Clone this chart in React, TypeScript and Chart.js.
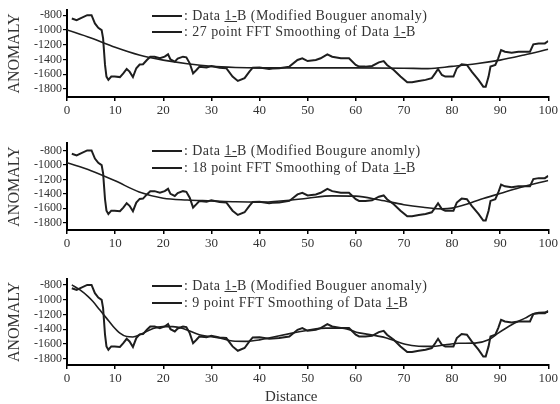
import React, { useEffect, useRef } from 'react';
import { Chart, registerables } from 'chart.js';

Chart.register(...registerables);

// ---- data ----
const distance = [1, 2, 3, 4.2, 5.1, 5.8, 6.5, 7.2, 7.5, 7.9, 8.2, 8.6, 9.2, 9.9, 11, 11.7, 12.4, 13, 13.7, 14.4, 15.1, 15.8, 16.6, 17.3, 18.2, 19.3, 20.3, 21, 21.5, 22.4, 23, 24.1, 24.8, 25.5, 26.2, 26.9, 27.5, 29, 30, 31.7, 33.1, 34.4, 35.5, 36.9, 37.9, 38.6, 40, 42, 42.7, 44.1, 46.2, 47.9, 48.9, 50, 51.7, 52.7, 54.1, 55.1, 56.9, 58.6, 60, 60.7, 62, 63.4, 64.8, 65.8, 66.5, 67.9, 69.3, 70.7, 71.7, 73.1, 74.5, 75.8, 76.5, 77.1, 77.9, 78.6, 80.3, 81, 82, 83.1, 84.1, 85.5, 86.5, 87, 87.6, 88, 89, 89.6, 90.2, 91, 92.4, 93.8, 95.2, 96.2, 96.9, 98, 99.3, 100];
const anomaly = [-845, -868, -836, -800, -800, -912, -971, -1003, -1115, -1475, -1633, -1678, -1633, -1633, -1640, -1590, -1530, -1566, -1640, -1520, -1470, -1466, -1408, -1363, -1363, -1385, -1363, -1331, -1400, -1430, -1390, -1363, -1372, -1453, -1590, -1543, -1500, -1510, -1490, -1512, -1520, -1633, -1692, -1655, -1566, -1512, -1510, -1530, -1525, -1520, -1498, -1408, -1385, -1422, -1408, -1385, -1331, -1363, -1385, -1385, -1475, -1498, -1498, -1489, -1440, -1422, -1475, -1543, -1633, -1710, -1710, -1692, -1678, -1655, -1590, -1530, -1611, -1633, -1633, -1520, -1466, -1475, -1566, -1678, -1770, -1770, -1633, -1498, -1475, -1385, -1273, -1296, -1309, -1296, -1296, -1296, -1196, -1183, -1183, -1151];

const smooth27X = [0, 5, 10, 15, 20, 25, 30, 35, 40, 50, 60, 70, 75, 80, 85, 90, 95, 100];
const smooth27Y = [-1000, -1110, -1235, -1340, -1410, -1460, -1495, -1510, -1515, -1515, -1515, -1520, -1525, -1495, -1460, -1410, -1340, -1263];

const smooth18X = [0, 5, 10, 15, 20, 25, 30, 35, 40, 45, 50, 55, 60, 65, 70, 74, 78, 80, 83, 86, 90, 94, 100];
const smooth18Y = [-970, -1080, -1220, -1375, -1462, -1485, -1497, -1510, -1515, -1495, -1460, -1428, -1432, -1485, -1550, -1585, -1608, -1598, -1545, -1475, -1395, -1315, -1215];

const smooth9X = [1, 2.7, 4.4, 5.4, 6.8, 8.2, 9.6, 11, 12.4, 13.7, 15.8, 17.9, 19.9, 22, 24.1, 27.5, 31.7, 34.4, 37.2, 40, 43.4, 46.8, 50.3, 53.8, 57.2, 60.7, 63.4, 66.2, 70.3, 73.1, 75.8, 78.6, 81.4, 84.8, 87.6, 89.6, 92.4, 95.2, 97.2, 100];
const smooth9Y = [-800, -868, -958, -1025, -1138, -1250, -1363, -1453, -1500, -1505, -1455, -1390, -1365, -1365, -1390, -1475, -1520, -1560, -1565, -1545, -1498, -1453, -1410, -1385, -1385, -1450, -1478, -1515, -1605, -1630, -1633, -1611, -1590, -1588, -1543, -1453, -1340, -1250, -1183, -1169];

const yTickValues = [-800, -1000, -1200, -1400, -1600, -1800];
const legendTitles = [
  ': Data 1-B (Modified Bouguer anomaly)',
  ': Data 1-B (Modified Bougure anomly)',
  ': Data 1-B (Modified Bouguer anomaly)',
];
const smoothLabels = [
  ': 27 point FFT Smoothing of Data 1-B',
  ': 18 point FFT Smoothing of Data 1-B',
  ': 9 point FFT Smoothing of Data 1-B',
];

const FONT = "'Liberation Serif', 'Times New Roman', serif";
const INK = '#1e1e1e';
const TEXT = '#333333';

type PanelProps = {
  top: number;
  height: number;
  areaTop: number;
  areaBottom: number;
  yMin: number;
  yMax: number;
  sx: number[];
  sy: number[];
};

function Panel({ top, height, areaTop, areaBottom, yMin, yMax, sx, sy }: PanelProps) {
  const ref = useRef<HTMLCanvasElement>(null);
  useEffect(() => {
    const canvas = ref.current!;
    const chart = new Chart(canvas, {
      type: 'line',
      data: {
        datasets: [
          {
            data: distance.map((x, i) => ({ x, y: anomaly[i] })),
            borderColor: INK,
            borderWidth: 2,
            pointRadius: 0,
            tension: 0,
          },
          {
            data: sx.map((x, i) => ({ x, y: sy[i] })),
            borderColor: INK,
            borderWidth: 1.6,
            pointRadius: 0,
            cubicInterpolationMode: 'monotone',
          },
        ],
      },
      options: {
        responsive: false,
        animation: false,
        devicePixelRatio: 1,
        layout: { padding: { top: areaTop, left: 0, right: 10, bottom: 0 } },
        plugins: { legend: { display: false }, tooltip: { enabled: false } },
        scales: {
          x: {
            type: 'linear',
            min: 0,
            max: 100,
            afterFit: (s: any) => {
              s.height = height - areaBottom;
            },
            ticks: {
              stepSize: 10,
              autoSkip: false,
              maxRotation: 0,
              padding: 2,
              color: TEXT,
              font: { family: FONT, size: 13 },
            },
            grid: { drawOnChartArea: false, drawTicks: true, tickLength: 4, color: '#000', lineWidth: 1.5 },
            border: { display: true, color: '#000', width: 2 },
          },
          y: {
            type: 'linear',
            min: yMin,
            max: yMax,
            afterFit: (s: any) => {
              s.width = 67;
            },
            afterBuildTicks: (s: any) => {
              s.ticks = yTickValues.map((v) => ({ value: v }));
            },
            ticks: {
              autoSkip: false,
              padding: 1,
              color: TEXT,
              font: { family: FONT, size: 12 },
              callback: (v: any) => String(v),
            },
            title: {
              display: true,
              text: 'ANOMALY',
              color: TEXT,
              font: { family: FONT, size: 16 },
              padding: { top: 5, bottom: 0 },
            },
            grid: { drawOnChartArea: false, drawTicks: true, tickLength: 4, color: '#000', lineWidth: 1.2 },
            border: { display: true, color: '#000', width: 2 },
          },
        },
      },
    } as any);
    return () => chart.destroy();
  }, []);
  return (
    <canvas
      ref={ref}
      width={560}
      height={height}
      style={{ position: 'absolute', left: 0, top, width: 560, height }}
    />
  );
}

function LegendRow({ y, label }: { y: number; label: string }) {
  const parts = label.split('1-B');
  return (
    <>
      <div style={{ position: 'absolute', left: 152, top: y - 1, width: 30, height: 2, background: INK }} />
      <div
        style={{
          position: 'absolute',
          left: 184,
          top: y - 9,
          fontFamily: FONT,
          fontSize: 14,
          lineHeight: '17px',
          color: TEXT,
          whiteSpace: 'nowrap',
          letterSpacing: 0.45,
        }}
      >
        {parts[0]}
        <u>1-</u>B{parts[1]}
      </div>
    </>
  );
}

export default function App() {
  const panels = [
    { top: 0, height: 130, areaTop: 10, areaBottom: 97, yMin: -1910, yMax: -730, sx: smooth27X, sy: smooth27Y, ly: [16, 32] },
    { top: 135, height: 130, areaTop: 8, areaBottom: 95, yMin: -1900, yMax: -700, sx: smooth18X, sy: smooth18Y, ly: [151, 168] },
    { top: 270, height: 134, areaTop: 9, areaBottom: 95, yMin: -1885, yMax: -720, sx: smooth9X, sy: smooth9Y, ly: [286, 303] },
  ];
  return (
    <div style={{ position: 'fixed', left: 0, top: 0, width: 560, height: 404, background: '#fff', overflow: 'hidden' }}>
      {panels.map((p, i) => (
        <Panel key={i} top={p.top} height={p.height} areaTop={p.areaTop} areaBottom={p.areaBottom} yMin={p.yMin} yMax={p.yMax} sx={p.sx} sy={p.sy} />
      ))}
      {panels.map((p, i) => (
        <React.Fragment key={'l' + i}>
          <LegendRow y={p.ly[0]} label={legendTitles[i]} />
          <LegendRow y={p.ly[1]} label={smoothLabels[i]} />
        </React.Fragment>
      ))}
      <div
        style={{
          position: 'absolute',
          left: 265,
          top: 388,
          fontFamily: FONT,
          fontSize: 15,
          lineHeight: '17px',
          color: TEXT,
          whiteSpace: 'nowrap',
        }}
      >
        Distance
      </div>
    </div>
  );
}
